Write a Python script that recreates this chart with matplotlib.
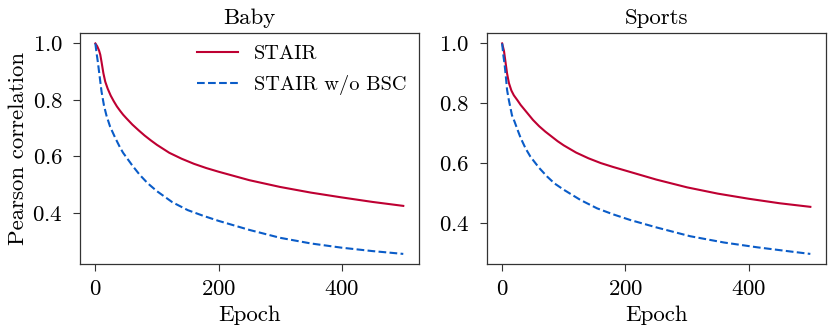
import matplotlib
matplotlib.use("Agg")
import matplotlib.pyplot as plt

plt.rcParams['font.family'] = 'serif'
plt.rcParams['font.serif'] = ['cmr10']
plt.rcParams['mathtext.fontset'] = 'cm'
plt.rcParams['axes.formatter.use_mathtext'] = True
plt.rcParams['font.size'] = 16.5

# values
baby_epoch = [0, 3, 6, 8, 10, 13, 16, 20, 25, 30, 35, 40, 45, 50, 60, 70, 80, 90, 100,
              120, 140, 160, 180, 200, 250, 300, 350, 400, 450, 500]
baby_stair = [1.0, 0.99, 0.975, 0.96, 0.935, 0.895, 0.865, 0.84, 0.815, 0.795, 0.777, 0.762, 0.748,
              0.736, 0.713, 0.693, 0.674, 0.657, 0.641, 0.613, 0.592, 0.574, 0.559, 0.546,
              0.516, 0.492, 0.472, 0.455, 0.439, 0.425]
baby_wo_epoch = [0, 2, 4, 6, 8, 10, 14, 18, 24, 32, 40, 45, 60, 72, 85, 100, 125, 150, 175,
                 200, 250, 300, 350, 400, 450, 500]
baby_wo = [1.0, 0.965, 0.935, 0.9, 0.865, 0.83, 0.78, 0.745, 0.705, 0.667, 0.632, 0.613, 0.568,
           0.535, 0.505, 0.477, 0.438, 0.41, 0.39, 0.372, 0.34, 0.312, 0.292, 0.277, 0.265, 0.255]

sports_epoch = [0, 3, 5, 8, 11, 15, 19, 25, 30, 40, 50, 60, 70, 80, 90, 100, 120, 140, 160,
                180, 200, 250, 300, 350, 400, 450, 500]
sports_stair = [1.0, 0.975, 0.945, 0.9, 0.868, 0.843, 0.827, 0.81, 0.795, 0.77, 0.745, 0.724,
                0.706, 0.69, 0.674, 0.66, 0.636, 0.617, 0.601, 0.588, 0.576, 0.546, 0.52, 0.499,
                0.482, 0.467, 0.455]
sports_wo_epoch = [0, 2, 4, 6, 8, 11, 16, 20, 25, 30, 38, 46, 60, 73, 85, 100, 127, 154, 180,
                   208, 251, 305, 360, 414, 468, 500]
sports_wo = [1.0, 0.96, 0.93, 0.89, 0.845, 0.81, 0.76, 0.74, 0.712, 0.685, 0.65, 0.622, 0.585,
             0.556, 0.533, 0.512, 0.478, 0.45, 0.43, 0.411, 0.386, 0.357, 0.336, 0.32, 0.306, 0.298]

red = '#BE0032'
blue = '#0A5CC8'

fig = plt.figure(figsize=(8.33, 3.36), dpi=100)
ax1 = fig.add_axes([0.096, 0.213, 0.4066, 0.689])
ax2 = fig.add_axes([0.5843, 0.213, 0.407, 0.689])

ax1.plot(baby_epoch, baby_stair, color=red, lw=1.5, label='STAIR')
ax1.plot(baby_wo_epoch, baby_wo, color=blue, lw=1.5, ls='--', label='STAIR w/o BSC')
ax2.plot(sports_epoch, sports_stair, color=red, lw=1.5, label='STAIR')
ax2.plot(sports_wo_epoch, sports_wo, color=blue, lw=1.5, ls='--', label='STAIR w/o BSC')

for ax, title in [(ax1, 'Baby'), (ax2, 'Sports')]:
    ax.set_title(title, fontsize=16.5, pad=6.5)
    ax.set_xlabel('Epoch', labelpad=5)
    ax.set_xticks([0, 200, 400])
    ax.set_yticks([0.4, 0.6, 0.8, 1.0])
    ax.tick_params(labelsize=16.5, length=5.2, width=0.8, color='#333333')
    ax.tick_params(axis='x', pad=5.5)
    ax.tick_params(axis='y', pad=7)
    for s in ax.spines.values():
        s.set_color('#333333')
        s.set_linewidth(0.9)

ax1.set_ylabel('Pearson correlation', labelpad=3)
ax1.legend(loc='upper right', frameon=False, fontsize=14.7, handlelength=2.0,
           borderaxespad=0.2, labelspacing=0.55)

fig.savefig('out.png', dpi=100)
